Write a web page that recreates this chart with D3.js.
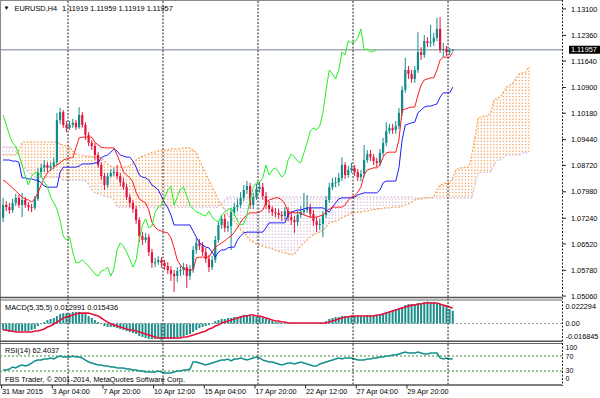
<!DOCTYPE html>
<html><head><meta charset="utf-8">
<script src="https://cdn.jsdelivr.net/npm/d3@7"></script>
<style>
html,body{margin:0;padding:0;background:#fff;}
svg{display:block;}
text{font-family:"Liberation Sans",Arial,sans-serif;fill:#000;}
</style></head><body>
<svg id="chart" width="600" height="398"></svg>
<script>
// ---------- DATA ----------
const symbol = "EURUSD,H4";
const headerOHLC = "1.11919 1.11959 1.11919 1.11957";
const timeLabels = ["31 Mar 2015","3 Apr 04:00","7 Apr 20:00","10 Apr 12:00","15 Apr 04:00","17 Apr 20:00","22 Apr 12:00","27 Apr 04:00","29 Apr 20:00"];
const timeLabelBars = [0,16,32,48,64,80,96,112,128];
const weekSeparatorBars = [20.5,50.5,80.5,110.5,140.5];
const priceTicks = [1.13100,1.12360,1.11640,1.10900,1.10180,1.09440,1.08720,1.07980,1.07240,1.06520,1.05780,1.05060];
const lastPrice = 1.11957;
const macdTickLabels = ["0.022294","0.00","-0.016845"];
const rsiLevels = [70,30];
const rsiTickLabels = ["100","70","30","0"];
const chikouShift = 24;

const open = [1.0725,1.0761,1.0755,1.0747,1.0767,1.0781,1.0761,1.0775,1.0761,1.0755,
1.0753,1.0778,1.0853,1.0865,1.0873,1.0865,1.0870,1.0881,1.0999,1.1021,
1.0985,1.0977,1.0985,1.0991,1.0979,1.1013,1.0985,1.0957,1.0935,1.0926,
1.0901,1.0873,1.0842,1.0817,1.0842,1.0851,1.0853,1.0842,1.0825,1.0811,
1.0783,1.0767,1.0750,1.0719,1.0674,1.0663,1.0671,1.0629,1.0599,1.0601,
1.0607,1.0599,1.0590,1.0579,1.0568,1.0562,1.0576,1.0579,1.0587,1.0562,
1.0582,1.0635,1.0655,1.0646,1.0629,1.0610,1.0587,1.0607,1.0663,1.0705,
1.0722,1.0697,1.0702,1.0741,1.0755,1.0761,1.0781,1.0803,1.0814,1.0761,
1.0783,1.0806,1.0811,1.0786,1.0761,1.0750,1.0741,1.0739,1.0733,1.0730,
1.0744,1.0727,1.0719,1.0713,1.0733,1.0741,1.0747,1.0753,1.0736,1.0716,
1.0705,1.0708,1.0733,1.0775,1.0811,1.0823,1.0825,1.0837,1.0873,1.0845,
1.0859,1.0865,1.0853,1.0839,1.0848,1.0887,1.0904,1.0895,1.0884,1.0879,
1.0907,1.0935,1.0968,1.0977,1.0971,1.0982,1.1019,1.1083,1.1139,1.1128,
1.1114,1.1139,1.1189,1.1181,1.1220,1.1215,1.1217,1.1229,1.1254,1.1195,
1.1198,1.1189,1.11919];
const high = [1.0781,1.0772,1.0767,1.0778,1.0792,1.0789,1.0795,1.0783,1.0769,1.0764,
1.0786,1.0865,1.0876,1.0887,1.0881,1.0881,1.0893,1.1019,1.1033,1.1027,
1.0996,1.0996,1.1002,1.0999,1.1035,1.1021,1.0993,1.0965,1.0943,1.0935,
1.0909,1.0881,1.0851,1.0851,1.0862,1.0865,1.0873,1.0851,1.0837,1.0820,
1.0792,1.0775,1.0758,1.0727,1.0685,1.0683,1.0680,1.0638,1.0613,1.0618,
1.0615,1.0607,1.0601,1.0590,1.0579,1.0587,1.0593,1.0599,1.0596,1.0593,
1.0646,1.0669,1.0666,1.0657,1.0641,1.0621,1.0618,1.0674,1.0716,1.0733,
1.0736,1.0716,1.0753,1.0767,1.0778,1.0797,1.0817,1.0828,1.0823,1.0795,
1.0820,1.0825,1.0823,1.0797,1.0772,1.0758,1.0753,1.0750,1.0744,1.0755,
1.0755,1.0739,1.0730,1.0744,1.0758,1.0795,1.0789,1.0764,1.0747,1.0727,
1.0722,1.0744,1.0786,1.0823,1.0837,1.0839,1.0851,1.0895,1.0881,1.0870,
1.0879,1.0873,1.0862,1.0859,1.0929,1.0915,1.0915,1.0904,1.0893,1.0918,
1.0949,1.0993,1.0988,1.0988,1.0996,1.1033,1.1094,1.1173,1.1150,1.1139,
1.1150,1.1245,1.1203,1.1237,1.1231,1.1265,1.1243,1.1285,1.1287,1.1215,
1.1206,1.1201,1.11959];
const low = [1.0713,1.0744,1.0736,1.0739,1.0758,1.0753,1.0727,1.0753,1.0744,1.0741,
1.0747,1.0772,1.0837,1.0853,1.0853,1.0856,1.0862,1.0873,1.0988,1.0977,
1.0965,1.0971,1.0977,1.0971,1.0974,1.0977,1.0943,1.0926,1.0915,1.0887,
1.0865,1.0831,1.0803,1.0809,1.0837,1.0842,1.0834,1.0814,1.0803,1.0775,
1.0755,1.0739,1.0708,1.0657,1.0649,1.0655,1.0618,1.0585,1.0587,1.0593,
1.0585,1.0579,1.0568,1.0548,1.0517,1.0545,1.0562,1.0565,1.0529,1.0551,
1.0571,1.0624,1.0635,1.0618,1.0599,1.0573,1.0579,1.0599,1.0655,1.0694,
1.0685,1.0685,1.0635,1.0730,1.0744,1.0753,1.0772,1.0792,1.0750,1.0750,
1.0775,1.0795,1.0775,1.0750,1.0739,1.0730,1.0727,1.0722,1.0716,1.0719,
1.0716,1.0705,1.0683,1.0702,1.0725,1.0733,1.0739,1.0725,1.0702,1.0685,
1.0691,1.0671,1.0725,1.0767,1.0803,1.0811,1.0814,1.0828,1.0834,1.0837,
1.0851,1.0842,1.0828,1.0828,1.0839,1.0879,1.0884,1.0873,1.0867,1.0870,
1.0898,1.0926,1.0960,1.0960,1.0960,1.0974,1.1010,1.1075,1.1114,1.1103,
1.1103,1.1131,1.1167,1.1173,1.1203,1.1203,1.1206,1.1220,1.1187,1.1175,
1.1178,1.1181,1.11919];
const close = [1.0761,1.0755,1.0747,1.0767,1.0781,1.0761,1.0775,1.0761,1.0755,1.0753,
1.0778,1.0853,1.0865,1.0873,1.0865,1.0870,1.0881,1.0999,1.1021,1.0985,
1.0977,1.0985,1.0991,1.0979,1.1013,1.0985,1.0957,1.0935,1.0926,1.0901,
1.0873,1.0842,1.0817,1.0842,1.0851,1.0853,1.0842,1.0825,1.0811,1.0783,
1.0767,1.0750,1.0719,1.0674,1.0663,1.0671,1.0629,1.0599,1.0601,1.0607,
1.0599,1.0590,1.0579,1.0568,1.0562,1.0576,1.0579,1.0587,1.0562,1.0582,
1.0635,1.0655,1.0646,1.0629,1.0610,1.0587,1.0607,1.0663,1.0705,1.0722,
1.0697,1.0702,1.0741,1.0755,1.0761,1.0781,1.0803,1.0814,1.0761,1.0783,
1.0806,1.0811,1.0786,1.0761,1.0750,1.0741,1.0739,1.0733,1.0730,1.0744,
1.0727,1.0719,1.0713,1.0733,1.0741,1.0747,1.0753,1.0736,1.0716,1.0705,
1.0708,1.0733,1.0775,1.0811,1.0823,1.0825,1.0837,1.0873,1.0845,1.0859,
1.0865,1.0853,1.0839,1.0848,1.0887,1.0904,1.0895,1.0884,1.0879,1.0907,
1.0935,1.0968,1.0977,1.0971,1.0982,1.1019,1.1083,1.1139,1.1128,1.1114,
1.1139,1.1189,1.1181,1.1220,1.1215,1.1217,1.1229,1.1254,1.1195,1.1198,
1.1189,1.1192,1.11957];

const tenkan = [1.0831,1.0825,1.0817,1.0809,1.0800,1.0792,1.0783,1.0778,1.0775,1.0769,
1.0778,1.0795,1.0817,1.0837,1.0851,1.0859,1.0867,1.0873,1.0879,1.0887,
1.0890,1.0893,1.0893,1.0921,1.0949,1.0951,1.0951,1.0951,1.0951,1.0937,
1.0929,1.0923,1.0921,1.0921,1.0921,1.0921,1.0901,1.0879,1.0853,1.0845,
1.0837,1.0825,1.0797,1.0778,1.0772,1.0767,1.0747,1.0713,1.0699,1.0691,
1.0688,1.0685,1.0683,1.0669,1.0641,1.0607,1.0593,1.0582,1.0579,1.0579,
1.0579,1.0613,1.0615,1.0615,1.0615,1.0615,1.0629,1.0643,1.0649,1.0655,
1.0660,1.0669,1.0674,1.0685,1.0697,1.0713,1.0725,1.0733,1.0739,1.0739,
1.0739,1.0741,1.0747,1.0767,1.0775,1.0778,1.0781,1.0781,1.0775,1.0764,
1.0741,1.0741,1.0739,1.0739,1.0739,1.0733,1.0730,1.0727,1.0727,1.0727,
1.0730,1.0733,1.0741,1.0750,1.0755,1.0755,1.0755,1.0755,1.0761,1.0775,
1.0783,1.0786,1.0797,1.0811,1.0845,1.0859,1.0862,1.0865,1.0865,1.0873,
1.0895,1.0907,1.0909,1.0909,1.0909,1.0943,1.1027,1.1030,1.1033,1.1035,
1.1035,1.1069,1.1097,1.1111,1.1114,1.1117,1.1117,1.1139,1.1167,1.1175,
1.1175,1.1175,1.1189];
const kijun = [1.0887,1.0887,1.0887,1.0884,1.0884,1.0881,1.0837,1.0837,1.0834,1.0834,
1.0831,1.0831,1.0823,1.0814,1.0811,1.0811,1.0811,1.0811,1.0853,1.0867,
1.0867,1.0867,1.0867,1.0867,1.0870,1.0876,1.0876,1.0876,1.0876,1.0879,
1.0879,1.0893,1.0898,1.0901,1.0909,1.0918,1.0912,1.0901,1.0898,1.0895,
1.0895,1.0884,1.0867,1.0845,1.0839,1.0837,1.0831,1.0817,1.0811,1.0803,
1.0786,1.0767,1.0753,1.0733,1.0705,1.0705,1.0705,1.0705,1.0705,1.0705,
1.0688,1.0671,1.0655,1.0649,1.0643,1.0641,1.0629,1.0615,1.0629,1.0635,
1.0635,1.0641,1.0643,1.0643,1.0663,1.0674,1.0683,1.0685,1.0685,1.0685,
1.0685,1.0685,1.0685,1.0697,1.0711,1.0711,1.0711,1.0711,1.0711,1.0711,
1.0733,1.0741,1.0744,1.0747,1.0747,1.0750,1.0753,1.0753,1.0753,1.0753,
1.0753,1.0753,1.0747,1.0741,1.0755,1.0767,1.0778,1.0781,1.0781,1.0781,
1.0781,1.0783,1.0789,1.0792,1.0795,1.0795,1.0795,1.0795,1.0795,1.0803,
1.0823,1.0828,1.0828,1.0828,1.0828,1.0865,1.0943,1.0985,1.0988,1.0991,
1.0993,1.1019,1.1027,1.1035,1.1038,1.1038,1.1041,1.1044,1.1063,1.1075,
1.1075,1.1075,1.1091];
const senkouA = [1.0901,1.0901,1.0901,1.0901,1.0901,1.0915,1.0937,1.0937,1.0937,1.0937,
1.0937,1.0937,1.0937,1.0937,1.0937,1.0937,1.0937,1.0937,1.0932,1.0929,
1.0926,1.0923,1.0912,1.0904,1.0901,1.0901,1.0898,1.0898,1.0898,1.0895,
1.0895,1.0893,1.0884,1.0876,1.0870,1.0867,1.0867,1.0867,1.0867,1.0867,
1.0870,1.0881,1.0887,1.0893,1.0898,1.0901,1.0904,1.0909,1.0909,1.0912,
1.0915,1.0915,1.0915,1.0918,1.0918,1.0918,1.0918,1.0921,1.0921,1.0921,
1.0915,1.0907,1.0887,1.0867,1.0848,1.0831,1.0811,1.0795,1.0775,1.0761,
1.0747,1.0733,1.0725,1.0716,1.0705,1.0691,1.0683,1.0674,1.0663,1.0657,
1.0652,1.0649,1.0646,1.0643,1.0641,1.0638,1.0635,1.0632,1.0629,1.0627,
1.0624,1.0621,1.0624,1.0635,1.0646,1.0655,1.0663,1.0671,1.0677,1.0683,
1.0685,1.0691,1.0699,1.0711,1.0713,1.0716,1.0719,1.0725,1.0730,1.0733,
1.0739,1.0739,1.0741,1.0741,1.0744,1.0744,1.0747,1.0747,1.0750,1.0750,
1.0753,1.0753,1.0753,1.0755,1.0755,1.0755,1.0758,1.0761,1.0764,1.0769,
1.0775,1.0778,1.0778,1.0781,1.0781,1.0781,1.0783,1.0803,1.0817,1.0820,
1.0823,1.0823,1.0837,1.0859,1.0865,1.0865,1.0867,1.0867,1.0901,1.0949,
1.1005,1.1007,1.1010,1.1010,1.1021,1.1055,1.1061,1.1063,1.1077,1.1091,
1.1097,1.1103,1.1117,1.1128,1.1131,1.1133,1.1147];
const senkouB = [1.0923,1.0923,1.0923,1.0923,1.0923,1.0901,1.0870,1.0862,1.0853,1.0845,
1.0839,1.0839,1.0839,1.0839,1.0839,1.0839,1.0839,1.0839,1.0839,1.0831,
1.0831,1.0831,1.0831,1.0831,1.0831,1.0831,1.0831,1.0817,1.0803,1.0795,
1.0792,1.0789,1.0786,1.0783,1.0783,1.0775,1.0755,1.0755,1.0755,1.0755,
1.0755,1.0755,1.0755,1.0755,1.0755,1.0755,1.0755,1.0755,1.0755,1.0755,
1.0755,1.0755,1.0755,1.0755,1.0755,1.0755,1.0755,1.0755,1.0755,1.0755,
1.0755,1.0755,1.0755,1.0755,1.0755,1.0755,1.0755,1.0755,1.0755,1.0767,
1.0775,1.0783,1.0783,1.0783,1.0783,1.0783,1.0783,1.0783,1.0783,1.0783,
1.0783,1.0783,1.0783,1.0783,1.0783,1.0783,1.0783,1.0783,1.0783,1.0783,
1.0783,1.0783,1.0783,1.0783,1.0783,1.0783,1.0783,1.0783,1.0783,1.0783,
1.0783,1.0783,1.0783,1.0783,1.0783,1.0783,1.0783,1.0783,1.0783,1.0783,
1.0783,1.0783,1.0783,1.0783,1.0783,1.0783,1.0783,1.0783,1.0783,1.0783,
1.0783,1.0783,1.0783,1.0783,1.0783,1.0783,1.0783,1.0783,1.0783,1.0783,
1.0781,1.0781,1.0781,1.0781,1.0781,1.0781,1.0781,1.0781,1.0781,1.0781,
1.0781,1.0781,1.0781,1.0781,1.0781,1.0781,1.0781,1.0781,1.0781,1.0817,
1.0851,1.0853,1.0853,1.0853,1.0853,1.0873,1.0887,1.0887,1.0893,1.0901,
1.0901,1.0901,1.0901,1.0901,1.0907,1.0907,1.0907];

const macdMain = [-0.0066,-0.0076,-0.0086,-0.0086,-0.0076,-0.0076,-0.0076,-0.0076,-0.0076,-0.0066,
-0.0056,-0.0025,-0.0005,0.0015,0.0035,0.0046,0.0056,0.0076,0.0096,0.0106,
0.0106,0.0106,0.0117,0.0117,0.0117,0.0106,0.0096,0.0076,0.0056,0.0035,
0.0015,-0.0005,-0.0025,-0.0035,-0.0035,-0.0035,-0.0046,-0.0056,-0.0066,-0.0076,
-0.0086,-0.0096,-0.0106,-0.0127,-0.0137,-0.0147,-0.0157,-0.0157,-0.0157,-0.0157,
-0.016845,-0.0157,-0.0157,-0.0157,-0.0157,-0.0147,-0.0137,-0.0127,-0.0117,-0.0106,
-0.0086,-0.0066,-0.0046,-0.0035,-0.0025,-0.0015,0.0005,0.0025,0.0035,0.0046,
0.0046,0.0056,0.0056,0.0066,0.0066,0.0076,0.0086,0.0086,0.0076,0.0076,
0.0066,0.0066,0.0056,0.0046,0.0035,0.0025,0.0015,0.0015,0.0005,0.0005,
0.0005,-0.0005,-0.0005,0.0005,0.0005,0.0005,0.0005,0.0005,-0.0005,-0.0005,
-0.0005,0.0005,0.0025,0.0046,0.0056,0.0066,0.0066,0.0076,0.0076,0.0076,
0.0076,0.0076,0.0076,0.0076,0.0076,0.0086,0.0086,0.0086,0.0086,0.0096,
0.0106,0.0117,0.0127,0.0137,0.0147,0.0157,0.0167,0.0187,0.0198,0.0198,
0.0198,0.0208,0.0208,0.0218,0.022294,0.0218,0.0218,0.0208,0.0198,0.0177,
0.0167,0.0147,0.012991];
const macdSignal = [-0.0066,-0.0066,-0.0076,-0.0076,-0.0086,-0.0086,-0.0086,-0.0086,-0.0086,-0.0086,
-0.0076,-0.0076,-0.0066,-0.0056,-0.0035,-0.0025,-0.0005,0.0015,0.0035,0.0056,
0.0066,0.0076,0.0086,0.0096,0.0106,0.0106,0.0106,0.0106,0.0096,0.0086,
0.0076,0.0056,0.0035,0.0015,-0.0005,-0.0015,-0.0025,-0.0035,-0.0046,-0.0056,
-0.0066,-0.0066,-0.0076,-0.0086,-0.0096,-0.0106,-0.0117,-0.0127,-0.0137,-0.0147,
-0.0147,-0.0147,-0.0147,-0.0147,-0.0147,-0.0147,-0.0147,-0.0137,-0.0137,-0.0127,
-0.0117,-0.0106,-0.0096,-0.0086,-0.0076,-0.0056,-0.0046,-0.0025,-0.0015,0.0005,
0.0015,0.0025,0.0035,0.0046,0.0056,0.0066,0.0076,0.0076,0.0086,0.0086,
0.0076,0.0076,0.0066,0.0056,0.0046,0.0035,0.0025,0.0025,0.0015,0.0015,
0.0005,0.0005,0.0005,0.0005,0.0005,0.0005,0.0005,0.0005,0.0005,0.0005,
0.0005,0.0005,0.0005,0.0015,0.0025,0.0035,0.0046,0.0056,0.0066,0.0066,
0.0076,0.0076,0.0076,0.0076,0.0076,0.0076,0.0076,0.0076,0.0086,0.0086,
0.0096,0.0106,0.0117,0.0127,0.0137,0.0147,0.0157,0.0167,0.0177,0.0187,
0.0187,0.0198,0.0198,0.0208,0.0208,0.0208,0.0208,0.0208,0.0198,0.0187,
0.0177,0.0167,0.015436];
const rsi = [32.7,32.7,35.3,40.7,38.0,43.3,46.0,43.3,46.0,51.3,
56.7,59.3,59.3,62.0,62.0,64.7,62.0,67.3,70.0,67.3,
67.3,67.3,70.0,67.3,67.3,64.7,59.3,54.0,51.3,48.7,
46.0,46.0,43.3,43.3,40.7,40.7,38.0,38.0,38.0,35.3,
35.3,32.7,32.7,30.0,30.0,27.3,27.3,27.3,27.3,30.0,
27.3,24.7,24.7,24.7,27.3,30.0,30.0,32.7,32.7,35.3,
54.0,54.0,51.3,48.7,46.0,48.7,51.3,54.0,56.7,59.3,
59.3,62.0,56.7,62.0,62.0,64.7,62.0,59.3,62.0,64.7,
67.3,64.7,59.3,56.7,54.0,54.0,51.3,48.7,46.0,48.7,
51.3,51.3,48.7,51.3,54.0,51.3,48.7,46.0,43.3,43.3,
48.7,51.3,54.0,56.7,59.3,62.0,64.7,62.0,64.7,64.7,
64.7,62.0,59.3,59.3,59.3,62.0,62.0,64.7,64.7,67.3,
67.3,70.0,70.0,72.7,72.7,75.3,78.0,80.7,78.0,78.0,
78.0,80.7,78.0,75.3,75.3,78.0,78.0,78.0,64.7,62.0,
64.7,62.0,62.4037];

// ---------- DRAW ----------
const svg = d3.select("#chart");
const RIGHT = 562;
const x = d3.scaleLinear().domain([0, 142]).range([3.1, 3.1 + 142 * 3.1667]);
const yP = d3.scaleLinear().domain([1.0506, 1.1310]).range([296.07, 8.93]);
const yM = d3.scaleLinear().domain([-0.016845, 0.022294]).range([340.1, 301.6]);
const yR = d3.scaleLinear().domain([0, 100]).range([382.25, 344.75]);

const defs = svg.append("defs");
function clip(id, y0, h) {
  defs.append("clipPath").attr("id", id).append("rect").attr("x", 0).attr("y", y0).attr("width", RIGHT).attr("height", h);
}
clip("cMain", 1, 296); clip("cMacd", 300.5, 40.5); clip("cRsi", 344, 40.5);

const gMain = svg.append("g").attr("clip-path", "url(#cMain)");
const gMacd = svg.append("g").attr("clip-path", "url(#cMacd)");
const gRsi = svg.append("g").attr("clip-path", "url(#cRsi)");

// Ichimoku cloud (dotted columns)
const cloudIdx = d3.range(senkouA.length);
gMain.append("g").selectAll("line").data(cloudIdx).join("line")
  .attr("x1", i => x(i)).attr("x2", i => x(i))
  .attr("y1", i => Math.min(yP(senkouA[i]), yP(senkouB[i])))
  .attr("y2", i => Math.max(yP(senkouA[i]), yP(senkouB[i])) + 0.5)
  .attr("stroke", i => senkouA[i] >= senkouB[i] ? "#f5a55e" : "#d8bfd8")
  .attr("stroke-width", 1.3)
  .attr("stroke-dasharray", "1.3,1.9")
  .attr("stroke-dashoffset", i => Math.min(yP(senkouA[i]), yP(senkouB[i])) % 3.2);
const lineP = d3.line().x((d, i) => x(i)).y(d => yP(d));
gMain.append("path").attr("d", lineP(senkouB)).attr("fill", "none").attr("stroke", "#d8bfd8").attr("stroke-width", 1.2).attr("stroke-dasharray", "2,1.5");
gMain.append("path").attr("d", lineP(senkouA)).attr("fill", "none").attr("stroke", "#f5a55e").attr("stroke-width", 1.2).attr("stroke-dasharray", "2,1.5");

// current price line
gMain.append("line").attr("x1", 0).attr("x2", RIGHT).attr("y1", yP(lastPrice)).attr("y2", yP(lastPrice))
  .attr("stroke", "#a3adb8").attr("stroke-width", 1.4);

// candles
const bull = "#138c89", bear = "#e3153d";
const bars = d3.range(close.length);
const gC = gMain.append("g");
gC.selectAll("line").data(bars).join("line")
  .attr("x1", i => x(i)).attr("x2", i => x(i))
  .attr("y1", i => yP(high[i])).attr("y2", i => yP(low[i]))
  .attr("stroke", i => close[i] >= open[i] ? bull : bear).attr("stroke-width", 1);
gC.selectAll("rect").data(bars).join("rect")
  .attr("x", i => x(i) - 1.1).attr("width", 2.2)
  .attr("y", i => yP(Math.max(open[i], close[i])))
  .attr("height", i => Math.max(1, yP(Math.min(open[i], close[i])) - yP(Math.max(open[i], close[i]))))
  .attr("fill", i => close[i] >= open[i] ? bull : bear);

// Ichimoku lines
gMain.append("path").attr("d", lineP(kijun)).attr("fill", "none").attr("stroke", "#1a1aff").attr("stroke-width", 1);
gMain.append("path").attr("d", lineP(tenkan)).attr("fill", "none").attr("stroke", "#ff1a1a").attr("stroke-width", 1);
const chikouIdx = d3.range(chikouShift, close.length);
gMain.append("path")
  .attr("d", d3.line().x(i => x(i - chikouShift)).y(i => yP(close[i]))(chikouIdx))
  .attr("fill", "none").attr("stroke", "#22ee22").attr("stroke-width", 1);

// MACD panel
gMacd.append("line").attr("x1", 0).attr("x2", RIGHT).attr("y1", yM(0)).attr("y2", yM(0))
  .attr("stroke", "#9a9a9a").attr("stroke-dasharray", "2,2");
gMacd.append("g").selectAll("rect").data(bars).join("rect")
  .attr("x", i => x(i) - 1).attr("width", 2)
  .attr("y", i => Math.min(yM(0), yM(macdMain[i])))
  .attr("height", i => Math.abs(yM(macdMain[i]) - yM(0)))
  .attr("fill", "#1f8f8b");
gMacd.append("path").attr("d", d3.line().x((d, i) => x(i)).y(d => yM(d))(macdSignal))
  .attr("fill", "none").attr("stroke", "#e8123c").attr("stroke-width", 1.6);

// RSI panel
rsiLevels.forEach(v => {
  gRsi.append("line").attr("x1", 0).attr("x2", RIGHT).attr("y1", yR(v)).attr("y2", yR(v))
    .attr("stroke", "#2e8b2e").attr("stroke-dasharray", "2,2");
});
gRsi.append("path").attr("d", d3.line().x((d, i) => x(i)).y(d => yR(d))(rsi))
  .attr("fill", "none").attr("stroke", "#13908b").attr("stroke-width", 1.5);

// period separators
weekSeparatorBars.forEach(b => {
  svg.append("line").attr("x1", x(b)).attr("x2", x(b)).attr("y1", 1).attr("y2", 385)
    .attr("stroke", "#222").attr("stroke-width", 1).attr("stroke-dasharray", "2,1.5");
});

// frames
const frame = (x1, y1, x2, y2, w, c, dash) => {
  const l = svg.append("line").attr("x1", x1).attr("y1", y1).attr("x2", x2).attr("y2", y2)
    .attr("stroke", c).attr("stroke-width", w);
  if (dash) l.attr("stroke-dasharray", dash);
};
frame(0, 0.5, RIGHT, 0.5, 1, "#8a8a8a");
frame(0.5, 0, 0.5, 385, 1, "#8a8a8a");
frame(0, 297.5, RIGHT, 297.5, 1.6, "#555");
frame(0, 300, RIGHT, 300, 1, "#666");
frame(0, 341.3, RIGHT, 341.3, 1.6, "#555");
frame(0, 343.5, RIGHT, 343.5, 1, "#666");
frame(0, 385, RIGHT, 385, 1.6, "#555");
frame(RIGHT + 0.5, 0, RIGHT + 0.5, 386, 1, "#222", "2,1.5");

// right axis price labels
const fs = "7.3px";
priceTicks.forEach(p => {
  frame(RIGHT, yP(p), RIGHT + 4, yP(p), 1, "#222");
  svg.append("text").attr("x", 571).attr("y", yP(p) + 2.7).attr("font-size", fs).text(p.toFixed(5));
});
svg.append("rect").attr("x", 569).attr("y", yP(lastPrice) - 4).attr("width", 31).attr("height", 8).attr("fill", "#000");
svg.append("text").attr("x", 571).attr("y", yP(lastPrice) + 2.7).attr("font-size", fs).style("fill", "#fff").text(lastPrice.toFixed(5));

// MACD axis labels
[[macdTickLabels[0], 306.5], [macdTickLabels[1], yM(0)], [macdTickLabels[2], 336]].forEach(([t, yy]) => {
  svg.append("text").attr("x", 565.5).attr("y", yy + 2.7).attr("font-size", fs).text(t);
});
// RSI axis labels
[[rsiTickLabels[0], 347.6], [rsiTickLabels[1], 356.6], [rsiTickLabels[2], 370], [rsiTickLabels[3], 378.3]].forEach(([t, yy]) => {
  svg.append("text").attr("x", 565.5).attr("y", yy + 2.5).attr("font-size", "7px").text(t);
});

// time axis
timeLabels.forEach((t, k) => {
  const xx = x(timeLabelBars[k]);
  frame(xx - 1.5, 385, xx - 1.5, 388.5, 1, "#222");
  svg.append("text").attr("x", xx - 1.2).attr("y", 393.8).attr("font-size", fs).text(t);
});

// header and panel titles
svg.append("text").attr("x", 3.5).attr("y", 9.5).attr("font-size", "6px").text("▼");
svg.append("text").attr("x", 14.5).attr("y", 10.6).attr("font-size", "7.4px").text(symbol);
svg.append("text").attr("x", 62).attr("y", 10.6).attr("font-size", "7.4px").text(headerOHLC);
svg.append("text").attr("x", 5).attr("y", 309.5).attr("font-size", "7.4px")
  .text(`MACD(5,35,5) ${macdMain[macdMain.length - 1].toFixed(6)} ${macdSignal[macdSignal.length - 1].toFixed(6)}`);
svg.append("text").attr("x", 5).attr("y", 353.2).attr("font-size", "7.4px")
  .text(`RSI(14) ${rsi[rsi.length - 1].toFixed(4)}`);
svg.append("text").attr("x", 5).attr("y", 381.6).attr("font-size", "7.4px")
  .text("FBS Trader, © 2001-2014, MetaQuotes Software Corp.");
</script>
</body></html>
